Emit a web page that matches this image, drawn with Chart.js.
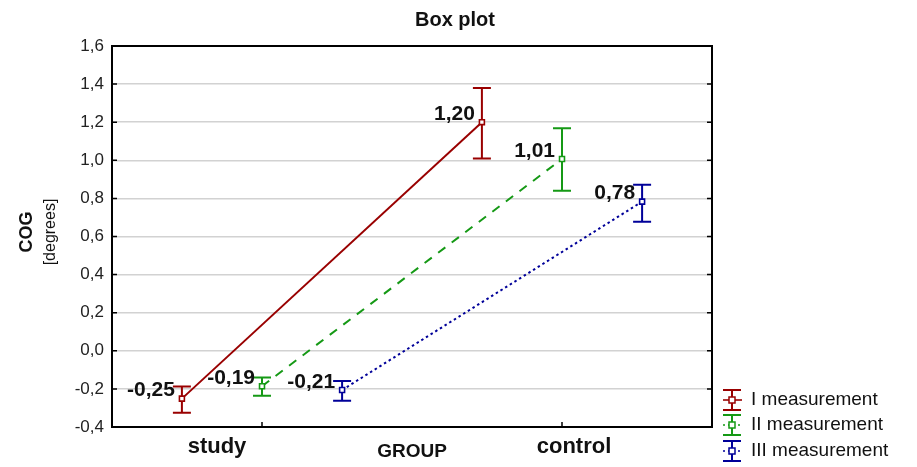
<!DOCTYPE html>
<html>
<head>
<meta charset="utf-8">
<script src="https://cdn.jsdelivr.net/npm/chart.js@4.4.1/dist/chart.umd.min.js"></script>
<style>
html,body{margin:0;padding:0;background:#fff;}
#wrap{width:917px;height:467px;position:relative;}
</style>
</head>
<body>
<div id="wrap"><canvas id="c"></canvas></div>
<script>
// ---- data ----
const categories = ['study', 'control'];
const seriesNames = ['I measurement', 'II measurement', 'III measurement'];
const meanI = [-0.251, 1.20];
const lowI = [-0.325, 1.01];
const highI = [-0.188, 1.38];
const meanII = [-0.186, 1.007];
const lowII = [-0.236, 0.84];
const highII = [-0.14, 1.168];
const meanIII = [-0.206, 0.783];
const lowIII = [-0.262, 0.678];
const highIII = [-0.158, 0.872];
const yTicks = [-0.4, -0.2, 0.0, 0.2, 0.4, 0.6, 0.8, 1.0, 1.2, 1.4, 1.6];

// ---- styling ----
const colors = ['#990000', '#159915', '#000099'];
const dashes = [[], [9, 8], [2.5, 3]];
const offsets = [-0.267, 0, 0.267];
const means = [meanI, meanII, meanIII];
const lows = [lowI, lowII, lowIII];
const highs = [highI, highII, highIII];
const FF = '"Liberation Sans", Arial, sans-serif';

const fmt = v => v.toFixed(2).replace('.', ',');
const fmt1 = v => v.toFixed(1).replace('.', ',');

const datasets = seriesNames.map((name, s) => ({
  label: name,
  data: categories.map((c, i) => ({x: i + offsets[s], y: means[s][i]})),
  borderColor: colors[s],
  borderWidth: 2,
  borderDash: dashes[s],
  pointStyle: 'rect',
  pointRadius: 3.5,
  pointBorderWidth: 1.6,
  pointBorderColor: colors[s],
  pointBackgroundColor: '#fff',
  fill: false,
  tension: 0
}));

const decor = {
  id: 'decor',
  beforeDatasetsDraw(chart) {
    const {ctx} = chart;
    const xs = chart.scales.x, ys = chart.scales.y;
    ctx.save();
    ctx.lineWidth = 2;
    seriesNames.forEach((n, s) => {
      ctx.strokeStyle = colors[s];
      categories.forEach((c, i) => {
        const x = xs.getPixelForValue(i + offsets[s]);
        const y1 = ys.getPixelForValue(lows[s][i]);
        const y2 = ys.getPixelForValue(highs[s][i]);
        ctx.beginPath();
        ctx.moveTo(x, y1); ctx.lineTo(x, y2);
        ctx.moveTo(x - 9, y1); ctx.lineTo(x + 9, y1);
        ctx.moveTo(x - 9, y2); ctx.lineTo(x + 9, y2);
        ctx.stroke();
      });
    });
    ctx.restore();
  },
  afterDatasetsDraw(chart) {
    const {ctx, chartArea: a} = chart;
    const xs = chart.scales.x, ys = chart.scales.y;
    ctx.save();
    // value labels
    ctx.fillStyle = '#111';
    ctx.font = 'bold 21px ' + FF;
    ctx.textAlign = 'right';
    ctx.textBaseline = 'middle';
    seriesNames.forEach((n, s) => {
      categories.forEach((c, i) => {
        const x = xs.getPixelForValue(i + offsets[s]);
        const y = ys.getPixelForValue(means[s][i]);
        ctx.fillText(fmt(means[s][i]), x - 7, y - 8);
      });
    });
    // frame
    ctx.strokeStyle = '#000';
    ctx.lineWidth = 2;
    ctx.strokeRect(a.left, a.top, a.right - a.left, a.bottom - a.top);
    ctx.lineWidth = 1.5;
    ctx.beginPath();
    yTicks.forEach(v => {
      const y = ys.getPixelForValue(v);
      ctx.moveTo(a.left, y); ctx.lineTo(a.left + 5, y);
      ctx.moveTo(a.right, y); ctx.lineTo(a.right - 5, y);
    });
    categories.forEach((c, i) => {
      const x = xs.getPixelForValue(i);
      ctx.moveTo(x, a.bottom); ctx.lineTo(x, a.bottom - 5);
    });
    ctx.stroke();
    // category labels
    ctx.fillStyle = '#111';
    ctx.font = 'bold 22px ' + FF;
    ctx.textAlign = 'center';
    ctx.textBaseline = 'middle';
    const catShift = [-45, 12];
    categories.forEach((c, i) => {
      ctx.fillText(c, xs.getPixelForValue(i) + catShift[i], a.bottom + 20);
    });
    // x axis title
    ctx.font = 'bold 19px ' + FF;
    ctx.fillText('GROUP', (a.left + a.right) / 2, a.bottom + 25);
    // chart title
    ctx.font = 'bold 20px ' + FF;
    ctx.fillText('Box plot', 455, 20);
    // y axis title
    ctx.save();
    ctx.translate(27, 232);
    ctx.rotate(-Math.PI / 2);
    ctx.font = 'bold 18px ' + FF;
    ctx.fillText('COG', 0, 0);
    ctx.restore();
    ctx.save();
    ctx.translate(51, 232);
    ctx.rotate(-Math.PI / 2);
    ctx.font = '16px ' + FF;
    ctx.fillText('[degrees]', 0, 0);
    ctx.restore();
    // legend
    const ly = [400, 425, 451];
    seriesNames.forEach((n, s) => {
      const y = ly[s], x = 732;
      ctx.strokeStyle = colors[s];
      ctx.lineWidth = 2;
      ctx.setLineDash([]);
      ctx.beginPath();
      ctx.moveTo(x, y - 10); ctx.lineTo(x, y + 10);
      ctx.moveTo(x - 9, y - 10); ctx.lineTo(x + 9, y - 10);
      ctx.moveTo(x - 9, y + 10); ctx.lineTo(x + 9, y + 10);
      ctx.stroke();
      ctx.lineWidth = 1.6;
      ctx.setLineDash(s === 0 ? [] : [2, 3]);
      ctx.beginPath();
      ctx.moveTo(x - 9, y); ctx.lineTo(x + 10, y);
      ctx.stroke();
      ctx.setLineDash([]);
      ctx.fillStyle = '#fff';
      ctx.fillRect(x - 3, y - 3, 6, 6);
      ctx.lineWidth = 1.5;
      ctx.strokeRect(x - 3, y - 3, 6, 6);
      ctx.fillStyle = '#111';
      ctx.font = '19px ' + FF;
      ctx.textAlign = 'left';
      ctx.fillText(n, 751, y);
    });
    ctx.restore();
  }
};

new Chart(document.getElementById('c'), {
  type: 'line',
  data: {datasets},
  options: {
    responsive: true,
    maintainAspectRatio: false,
    animation: false,
    layout: {padding: {left: 0, right: 205, top: 46, bottom: 0}},
    plugins: {legend: {display: false}, title: {display: false}, tooltip: {enabled: false}},
    scales: {
      x: {
        type: 'linear', min: -0.5, max: 1.5,
        grid: {display: false, drawTicks: false},
        border: {display: false},
        ticks: {display: false},
        afterFit: s => { s.height = 40; }
      },
      y: {
        type: 'linear', min: -0.4, max: 1.6,
        afterBuildTicks: s => { s.ticks = yTicks.map(v => ({value: v})); },
        ticks: {
          callback: v => fmt1(v),
          color: '#222',
          padding: 8,
          font: {family: FF, size: 17}
        },
        grid: {color: '#d2d2d2', lineWidth: 1.5, drawTicks: false},
        border: {display: false},
        afterFit: s => { s.width = 112; }
      }
    }
  },
  plugins: [decor]
});
</script>
</body>
</html>
